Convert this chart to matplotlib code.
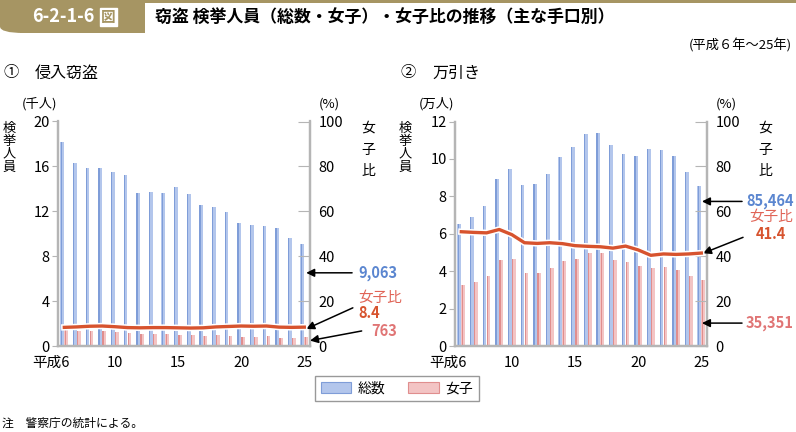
import numpy as np
import matplotlib
matplotlib.use("Agg")
import matplotlib.pyplot as plt
import matplotlib.patheffects as pe
import matplotlib.transforms as mtransforms
from matplotlib.patches import Patch, FancyBboxPatch, Rectangle

plt.rcParams['font.family'] = ['Noto Sans CJK JP', 'DejaVu Sans']

# years (Heisei 6 .. 25)
years = np.arange(6, 26)

# ① 侵入窃盗 (thousand persons)
shin_total = [18.17, 16.28, 15.84, 15.84, 15.46, 15.19, 13.60, 13.70, 13.66, 14.16,
              13.50, 12.54, 12.36, 11.98, 11.00, 10.77, 10.68, 10.53, 9.65, 9.063]
shin_female = [1.42, 1.33, 1.33, 1.30, 1.24, 1.12, 1.03, 1.03, 1.03, 1.00,
               1.00, 0.90, 0.97, 0.90, 0.83, 0.80, 0.86, 0.71, 0.68, 0.763]
shin_ratio = [8.3, 8.5, 8.8, 8.9, 8.6, 8.2, 8.1, 8.2, 8.2, 8.1,
              8.0, 8.1, 8.5, 8.7, 8.9, 8.8, 8.9, 8.4, 8.3, 8.4]

# ② 万引き (ten-thousand persons)
man_total = [6.53, 6.89, 7.47, 8.95, 9.48, 8.59, 8.66, 9.20, 10.08, 10.62,
             11.33, 11.41, 10.74, 10.26, 10.17, 10.53, 10.49, 10.14, 9.32, 8.5464]
man_female = [3.28, 3.43, 3.73, 4.58, 4.65, 3.89, 3.91, 4.15, 4.53, 4.63,
              4.95, 4.99, 4.60, 4.49, 4.28, 4.17, 4.23, 4.05, 3.73, 3.5351]
man_ratio = [50.9, 50.6, 50.4, 51.9, 49.6, 46.0, 45.7, 46.0, 45.6, 44.7,
             44.4, 44.2, 43.6, 44.5, 42.8, 40.4, 41.0, 40.8, 41.0, 41.4]

xtick_pos = [6, 10, 15, 20, 25]
xtick_lab = ['平成6', '10', '15', '20', '25']

BLUE_L, BLUE_D = '#b3c6ec', '#7f9dd8'
PINK_L, PINK_D = '#f3c4c4', '#e08e8e'
LINE_C = '#d7532e'
SPINE_C = '#b5b5b5'
GOLD = '#a69563'

fig = plt.figure(figsize=(7.96, 4.32), dpi=100)
W, H = 796, 432


def fx(px):
    return px / W


def fy(py):
    return 1 - py / H


def panel(x0, total, female, ratio, ylim, yticks, unit, notes):
    ax = fig.add_axes([fx(x0), fy(346), fx(252), (346 - 121.5) / H])
    bw = 0.3
    ax.bar(years - 0.16, total, width=bw, color=BLUE_L, zorder=2)
    ax.bar(years - 0.16 - 0.09, total, width=0.1, color=BLUE_D, zorder=2)
    ax.bar(years + 0.16, female, width=bw, color=PINK_L, zorder=2)
    ax.bar(years + 0.16 - 0.09, female, width=0.1, color=PINK_D, zorder=2)
    ax.set_xlim(5.5, 25.45)
    ax.set_ylim(0, ylim)
    ax.set_yticks(yticks)
    ax.set_xticks(xtick_pos)
    ax.set_xticklabels(xtick_lab)
    ax.tick_params(axis='x', length=0, labelsize=10.5, pad=7)
    ax.tick_params(axis='y', direction='out', length=4, color=SPINE_C,
                   labelsize=10.5, pad=2)
    first = ax.get_xticklabels()[0]
    first.set_horizontalalignment('right')
    first.set_transform(first.get_transform() +
                        mtransforms.ScaledTranslation(5 / 100, 0, fig.dpi_scale_trans))
    ax.spines['top'].set_visible(False)
    for s in ['left', 'right', 'bottom']:
        ax.spines[s].set_color(SPINE_C)
        ax.spines[s].set_linewidth(1.6)

    ax2 = ax.twinx()
    ax2.set_ylim(0, 100)
    ax2.set_yticks(range(0, 101, 20))
    ax2.tick_params(axis='y', direction='in', length=9, color=SPINE_C,
                    labelsize=10.5, pad=6)
    ax2.spines['top'].set_visible(False)
    for s in ['left', 'right', 'bottom']:
        ax2.spines[s].set_color(SPINE_C)
        ax2.spines[s].set_linewidth(1.6)
    ax2.plot(years, ratio, color=LINE_C, lw=2.4, zorder=5,
             path_effects=[pe.Stroke(linewidth=4.6, foreground='white'), pe.Normal()])

    # axis unit labels
    fig.text(fx(x0 - 36), fy(104), unit, ha='left', va='center', fontsize=9.5)
    fig.text(fx(x0 + 261), fy(104), '(%)', ha='left', va='center', fontsize=9.5)

    # callouts
    for kind, args in notes:
        if kind == 'arrow':
            (tx, ty), (hx, hy) = args
            ax2.annotate('', xy=(hx, hy), xytext=(tx, ty),
                         xycoords=('axes fraction', 'data'),
                         textcoords=('axes fraction', 'data'),
                         arrowprops=dict(arrowstyle='-|>', color='black', lw=1.1,
                                         mutation_scale=12, shrinkA=0, shrinkB=0),
                         annotation_clip=False)
        else:
            x, y, s, c, ha, wt = args
            ax2.text(x, y, s, transform=ax2.get_yaxis_transform(), color=c,
                     ha=ha, va='center', fontsize=10.5, fontweight=wt,
                     clip_on=False)
    return ax, ax2


left_notes = [
    ('arrow', ((1.167, 32.6), (0.985, 32.6))),
    ('text', (1.19, 32.6, '9,063', '#5b86d0', 'left', 'bold')),
    ('text', (1.19, 21.4, '女子比', '#e06457', 'left', 'normal')),
    ('arrow', ((1.17, 17.0), (0.985, 7.6))),
    ('text', (1.19, 14.7, '8.4', '#d7532e', 'left', 'bold')),
    ('arrow', ((1.205, 6.7), (1.0, 2.4))),
    ('text', (1.345, 6.7, '763', '#e07575', 'right', 'bold')),
]
right_notes = [
    ('arrow', ((1.139, 64.4), (0.98, 64.4))),
    ('text', (1.155, 64.4, '85,464', '#5b86d0', 'left', 'bold')),
    ('text', (1.255, 57.3, '女子比', '#e06457', 'center', 'normal')),
    ('arrow', ((1.143, 48.4), (0.984, 41.3))),
    ('text', (1.255, 49.8, '41.4', '#d7532e', 'center', 'bold')),
    ('arrow', ((1.139, 10.2), (0.98, 10.2))),
    ('text', (1.155, 10.2, '35,351', '#e07575', 'left', 'bold')),
]

panel(58, shin_total, shin_female, shin_ratio, 20, range(0, 21, 4), '(千人)', left_notes)
panel(455, man_total, man_female, man_ratio, 12, range(0, 13, 2), '(万人)', right_notes)


def vtext(x, ys, s, size=9.5):
    for y, ch in zip(ys, s):
        fig.text(fx(x), fy(y), ch, ha='center', va='center', fontsize=size)


vtext(9, [128, 141, 154, 167], '検挙人員')
vtext(368, [128, 150, 171], '女子比', size=10)
vtext(405, [128, 141, 154, 167], '検挙人員')
vtext(765, [128, 150, 171], '女子比', size=10)

# panel titles
fig.text(fx(3), fy(73), '①', ha='left', va='center', fontsize=11)
fig.text(fx(35), fy(73), '侵入窃盗', ha='left', va='center', fontsize=11.5)
fig.text(fx(400), fy(73), '②', ha='left', va='center', fontsize=11)
fig.text(fx(432), fy(73), '万引き', ha='left', va='center', fontsize=11.5)
fig.text(fx(792), fy(45), '(平成６年～25年)', ha='right', va='center', fontsize=9.5)

# header
fig.add_artist(Rectangle((0, fy(3)), 1, fy(0) - fy(3), transform=fig.transFigure,
                         color=GOLD, lw=0))
fig.add_artist(FancyBboxPatch((fx(0), fy(33)), fx(145), fy(0) - fy(33),
                              boxstyle='round,pad=0,rounding_size=0.03',
                              transform=fig.transFigure, color=GOLD, lw=0,
                              mutation_aspect=0.5))
fig.add_artist(Rectangle((fx(20), fy(33)), fx(125), fy(0) - fy(33),
                         transform=fig.transFigure, color=GOLD, lw=0))
fig.add_artist(Rectangle((0, fy(16)), fx(145), fy(0) - fy(16),
                         transform=fig.transFigure, color=GOLD, lw=0))
fig.text(fx(32), fy(17), '6-2-1-6', color='white', fontsize=13, fontweight='bold',
         ha='left', va='center')
fig.text(fx(101), fy(17), '図', color=GOLD, fontsize=10.5, fontweight='bold',
         ha='left', va='center',
         bbox=dict(boxstyle='square,pad=0.08', fc='white', ec='white'))
fig.text(fx(155), fy(17), '窃盗 検挙人員（総数・女子）・女子比の推移（主な手口別）',
         fontsize=12.2, fontweight='bold', ha='left', va='center')

# legend
handles = [Patch(facecolor=BLUE_L, edgecolor=BLUE_D, lw=0.8, label='総数'),
           Patch(facecolor=PINK_L, edgecolor=PINK_D, lw=0.8, label='女子')]
leg = fig.legend(handles=handles, loc='center', bbox_to_anchor=(fx(397), fy(388.5)),
                 ncol=2, frameon=True, fancybox=False, fontsize=10,
                 handlelength=2.2, handleheight=0.8, columnspacing=1.6,
                 handletextpad=0.5, borderpad=0.4)
leg.get_frame().set_edgecolor('#808080')
leg.get_frame().set_linewidth(1.0)

fig.text(fx(2), fy(423), '注　警察庁の統計による。', fontsize=8.5, ha='left', va='center')

fig.savefig('out.png', dpi=100)
